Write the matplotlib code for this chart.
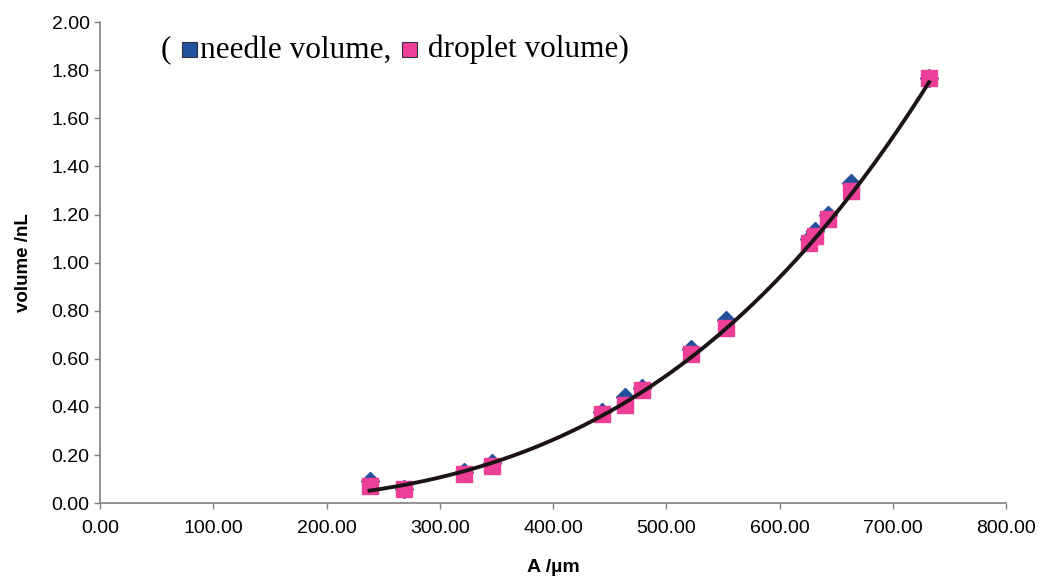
import numpy as np
import matplotlib
matplotlib.use("Agg")
import matplotlib.pyplot as plt
from matplotlib.offsetbox import TextArea, DrawingArea, HPacker, AnchoredOffsetbox
from matplotlib.patches import Rectangle

# A (um) and volumes (nL)
a_um = [238, 268, 321, 346, 443, 464, 479, 522, 553, 626, 631, 643, 663, 732]
needle_vol = [0.09, 0.06, 0.13, 0.165, 0.38, 0.44, 0.48, 0.64, 0.76, 1.10, 1.13, 1.20, 1.33, 1.77]
droplet_vol = [0.07, 0.06, 0.12, 0.155, 0.37, 0.41, 0.47, 0.62, 0.73, 1.08, 1.11, 1.18, 1.30, 1.77]

x_ticks = [0, 100, 200, 300, 400, 500, 600, 700, 800]
y_ticks = [0.0, 0.2, 0.4, 0.6, 0.8, 1.0, 1.2, 1.4, 1.6, 1.8, 2.0]

BLUE = "#22509a"
PINK = "#ee3f98"


def main():
    plt.rcParams["font.family"] = ["Liberation Sans", "DejaVu Sans"]

    fig = plt.figure(figsize=(10.45, 5.85), dpi=100)
    ax = fig.add_axes([0.0957, 0.140, 0.867, 0.822])

    # power-law trendline through the droplet data (Excel style)
    x = np.array(a_um, dtype=float)
    y = np.array(droplet_vol, dtype=float)
    b, log_a = np.polyfit(np.log(x), np.log(y), 1)
    xf = np.linspace(x.min(), x.max(), 200)
    yf = np.exp(log_a) * xf ** b

    ax.plot(a_um, needle_vol, linestyle="none", marker="D", ms=9.5,
            color=BLUE, mec=BLUE, zorder=2)
    ax.plot(a_um, droplet_vol, linestyle="none", marker="s", ms=12,
            color=PINK, mec=PINK, zorder=3)
    ax.plot(xf, yf, color="#1c1414", lw=2.8, zorder=4)

    ax.set_xlim(0, 800)
    ax.set_ylim(0, 2.0)
    ax.set_xticks(x_ticks)
    ax.set_yticks(y_ticks)
    ax.set_xticklabels([f"{v:.2f}" for v in x_ticks])
    ax.set_yticklabels([f"{v:.2f}" for v in y_ticks])
    ax.tick_params(labelsize=14, length=4, color="#808080", width=1)
    ax.tick_params(axis="x", pad=8)

    for side in ("top", "right"):
        ax.spines[side].set_visible(False)
    for side in ("left", "bottom"):
        ax.spines[side].set_color("#808080")
        ax.spines[side].set_linewidth(1.2)

    ax.set_xlabel("A /\u00b5m", fontsize=14, fontweight="bold", labelpad=16)
    ax.set_ylabel("volume /nL", fontsize=13.5, fontweight="bold", labelpad=14)

    # legend written as a line of text with small coloured squares
    serif = dict(family=["Liberation Serif", "DejaVu Serif"], size=22.5)

    def swatch(color):
        da = DrawingArea(13, 13, 0, 0)
        da.add_artist(Rectangle((1, 0), 11, 11, fc=color, ec="#303040", lw=0.8))
        return da

    parts = [
        TextArea("( ", textprops=serif),
        swatch(BLUE),
        TextArea("needle volume, ", textprops=serif),
        swatch(PINK),
        TextArea(" droplet volume)", textprops=serif),
    ]
    box = HPacker(children=parts, align="baseline", pad=0, sep=1)
    anchored = AnchoredOffsetbox(loc="upper left", child=box, frameon=False,
                                 bbox_to_anchor=(0.061, 0.985),
                                 bbox_transform=ax.transAxes, borderpad=0)
    ax.add_artist(anchored)

    fig.savefig("out.png", dpi=100)
    plt.close(fig)


if __name__ == "__main__":
    main()
